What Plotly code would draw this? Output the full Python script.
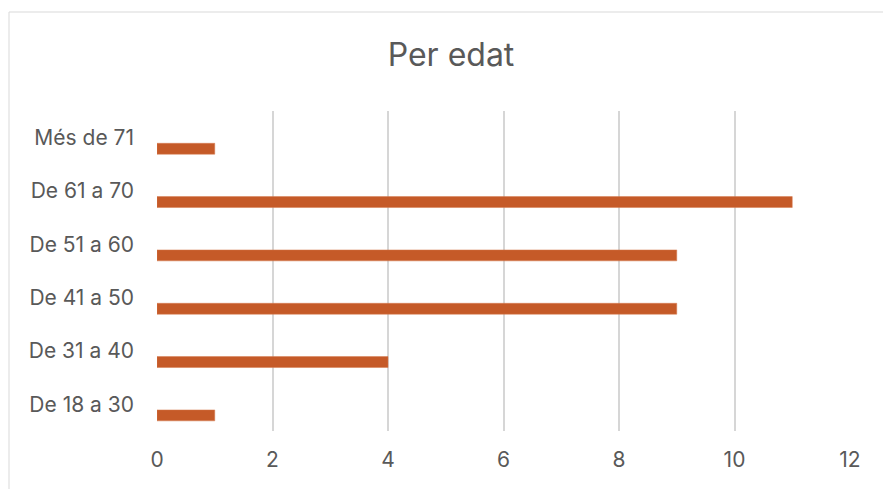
import plotly.graph_objects as go

categories = ["De 18 a 30", "De 31 a 40", "De 41 a 50", "De 51 a 60", "De 61 a 70", "Més de 71"]
values = [1, 4, 9, 9, 11, 1]
x_ticks = [0, 2, 4, 6, 8, 10, 12]

FONT = "Inter"
GREY = "#595959"
TICK_SIZE = 21

fig = go.Figure()
fig.add_trace(go.Bar(
    y=categories, x=values, orientation="h",
    marker=dict(color="#C55A28", line=dict(color="#D77A4E", width=0.5)),
    width=0.205, offset=-0.31,
))

W, H = 883, 489
L, R, T, B = 157, 33, 111, 58
pw, ph = W - L - R, H - T - B

fig.update_layout(
    width=W, height=H,
    margin=dict(l=L, r=R, t=T, b=B, autoexpand=False),
    paper_bgcolor="white", plot_bgcolor="white",
    showlegend=False,
    title=dict(text="Per edat", x=451 / W, xanchor="center", xref="container",
               y=1 - 55 / H, yanchor="middle", yref="container",
               font=dict(family=FONT, size=32, color=GREY)),
    font=dict(family=FONT, size=TICK_SIZE, color=GREY),
    xaxis=dict(range=[0, 12], tickvals=x_ticks, showgrid=True, gridcolor="#D6D6D6", gridwidth=1.6,
               zeroline=False, showline=False, ticks="", ticklabelstandoff=14,
               tickfont=dict(family=FONT, size=TICK_SIZE, color=GREY), fixedrange=True),
    yaxis=dict(type="category", categoryorder="array", categoryarray=categories,
               range=[-0.5, 5.5], showgrid=False, zeroline=False, showline=False, ticks="",
               ticklabelstandoff=22, tickfont=dict(family=FONT, size=TICK_SIZE, color=GREY), fixedrange=True),
)

# outer chart border (cropped on right/bottom)
fig.add_shape(type="rect", xref="paper", yref="paper",
              x0=(9 - L) / pw, x1=(W + 10 - L) / pw,
              y0=(H - B - (H + 10)) / ph, y1=(H - B - 12) / ph,
              line=dict(color="#D9D9D9", width=1), fillcolor="rgba(0,0,0,0)", layer="below")

fig.write_html("out.html", config={"displayModeBar": False},
               post_script="document.body.style.margin='0';document.body.style.overflow='hidden';")
